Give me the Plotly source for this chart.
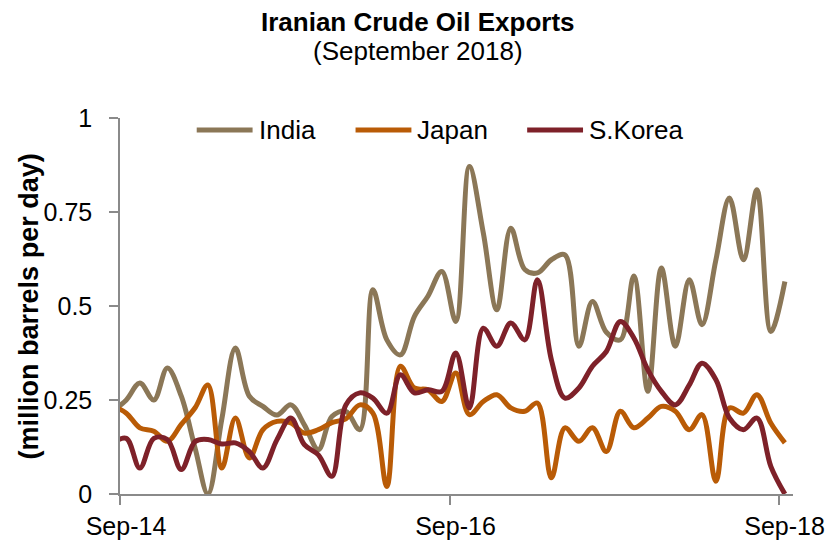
import pandas as pd
import plotly.graph_objects as go

# Monthly Iranian crude exports by destination, million barrels per day
# (one point per month, placed mid-month; Aug-14 through Sep-18)
months = pd.date_range("2014-08-01", periods=50, freq="MS") + pd.Timedelta(days=14)

india = [0.22,
         0.25, 0.295, 0.25, 0.335, 0.26, 0.12, 0.0, 0.2, 0.388, 0.26, 0.233, 0.21,
         0.237, 0.184, 0.118, 0.206, 0.22, 0.171, 0.543, 0.41, 0.37, 0.472, 0.526, 0.592,
         0.459, 0.871, 0.694, 0.49, 0.707, 0.597, 0.588, 0.623, 0.636, 0.393, 0.512, 0.43,
         0.41, 0.58, 0.273, 0.601, 0.393, 0.57, 0.45, 0.623, 0.787, 0.623, 0.809, 0.432,
         0.565]
japan = [0.235,
         0.215, 0.176, 0.167, 0.14, 0.185, 0.23, 0.29, 0.069, 0.202, 0.096, 0.171, 0.193,
         0.189, 0.162, 0.171, 0.19, 0.2, 0.237, 0.215, 0.02, 0.34, 0.282, 0.277, 0.246,
         0.322, 0.211, 0.246, 0.264, 0.229, 0.22, 0.242, 0.043, 0.176, 0.14, 0.176, 0.113,
         0.22, 0.176, 0.202, 0.233, 0.22, 0.171, 0.211, 0.034, 0.229, 0.215, 0.264, 0.188,
         0.136]
korea = [0.135,
         0.148, 0.069, 0.148, 0.145, 0.065, 0.14, 0.145, 0.133, 0.136, 0.113, 0.069, 0.144,
         0.202, 0.131, 0.104, 0.047, 0.237, 0.269, 0.255, 0.215, 0.317, 0.269, 0.277, 0.273,
         0.375, 0.229, 0.441, 0.393, 0.455, 0.41, 0.57, 0.357, 0.255, 0.282, 0.34, 0.379,
         0.459, 0.415, 0.33, 0.273, 0.237, 0.29, 0.348, 0.304, 0.202, 0.171, 0.202, 0.073,
         0.0]

series_names = ["India", "Japan", "S.Korea"]
series_values = [india, japan, korea]
series_colors = ["#8B7757", "#B95B06", "#7E2129"]

tick_dates = ["2014-09-01", "2016-09-01", "2018-09-01"]
tick_labels = ["Sep-14", "Sep-16", "Sep-18"]
y_ticks = [0, 0.25, 0.5, 0.75, 1]
y_labels = ["0", "0.25", "0.5", "0.75", "1"]

FONT = "Liberation Sans, Arial, sans-serif"
AXIS_GREY = "#8A8A8A"

fig = go.Figure()
for name, vals, col in zip(series_names, series_values, series_colors):
    fig.add_trace(go.Scatter(
        x=months, y=vals, name=name, mode="lines",
        line=dict(color=col, width=5, shape="spline", smoothing=1.0),
        showlegend=False,
    ))

# Legend row drawn inside the top of the plot: line sample + label
legend_x = [0.114, 0.350, 0.605]   # paper coords of each sample's left end
sample_len = 0.083
legend_y = 0.968
for lx, name, col in zip(legend_x, series_names, series_colors):
    fig.add_shape(type="line", xref="paper", yref="paper",
                  x0=lx, x1=lx + sample_len, y0=legend_y, y1=legend_y,
                  line=dict(color=col, width=5), layer="above")
    fig.add_annotation(xref="paper", yref="paper", x=lx + sample_len + 0.006, y=legend_y,
                       text=name, showarrow=False, xanchor="left", yanchor="middle",
                       font=dict(family=FONT, size=26, color="#000000"))

# Title block
fig.add_annotation(xref="paper", yref="paper", x=0.4429, y=1.255,
                   text="<b>Iranian Crude Oil Exports</b>", showarrow=False,
                   xanchor="center", yanchor="middle",
                   font=dict(family=FONT, size=26, color="#000000"))
fig.add_annotation(xref="paper", yref="paper", x=0.4429, y=1.178,
                   text="(September 2018)", showarrow=False,
                   xanchor="center", yanchor="middle",
                   font=dict(family=FONT, size=26, color="#000000"))

# Vertical axis title
fig.add_annotation(xref="paper", yref="paper", x=-0.1346, y=0.5,
                   text="<b>(million barrels per day)</b>", showarrow=False,
                   textangle=-90, xanchor="center", yanchor="middle",
                   font=dict(family=FONT, size=27, color="#000000"))

fig.update_layout(
    width=834, height=540,
    margin=dict(l=120, r=41, t=118, b=46, autoexpand=False),
    paper_bgcolor="white", plot_bgcolor="white",
    font=dict(family=FONT, size=25, color="#000000"),
    xaxis=dict(
        type="date", range=["2014-09-01", "2018-10-03"],
        tickvals=tick_dates, ticktext=tick_labels,
        showgrid=False, zeroline=False, automargin=False,
        showline=True, linecolor=AXIS_GREY, linewidth=1.5,
        ticks="outside", ticklen=9, tickwidth=1.5, tickcolor=AXIS_GREY,
        ticklabelshift=6, ticklabelstandoff=0,
        tickfont=dict(family=FONT, size=25, color="#000000"),
    ),
    yaxis=dict(
        range=[0, 1], tickvals=y_ticks, ticktext=y_labels,
        showgrid=False, zeroline=False, automargin=False,
        showline=True, linecolor=AXIS_GREY, linewidth=1.5,
        ticks="outside", ticklen=9, tickwidth=1.5, tickcolor=AXIS_GREY,
        ticklabelstandoff=12,
        tickfont=dict(family=FONT, size=25, color="#000000"),
    ),
)

fig.write_html("out.html")
